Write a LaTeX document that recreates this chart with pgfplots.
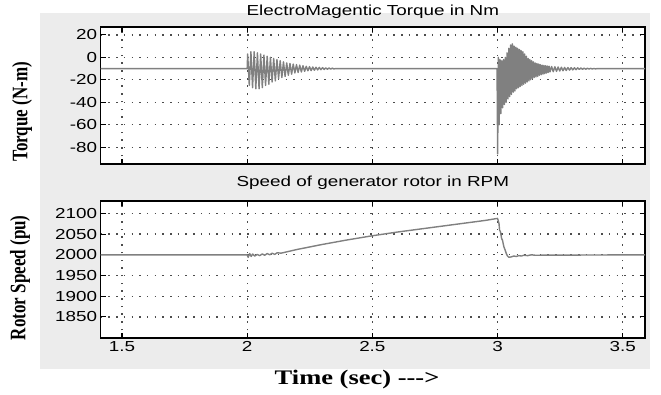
\documentclass[border=0pt]{standalone}
\usepackage{fontspec}
\usepackage{graphicx}
\usepackage{pgfplots}
\pgfplotsset{compat=1.18}
\setmainfont{Liberation Sans}
\newfontfamily\sfwide[FakeStretch=1.3]{Liberation Sans}
\newfontfamily\serifwide[FakeStretch=1.28]{Liberation Serif}
\newfontfamily\tnr{Liberation Serif}
\newcommand\tickfont{\fontsize{14.5}{16}\sfwide}
\definecolor{figbg}{RGB}{236,236,236}
\definecolor{trace}{RGB}{128,128,128}

\pgfplotsset{myax/.style={
  scale only axis, width=544.3pt, height=137pt,
  xmin=1.415, xmax=3.589,
  axis background/.style={fill=white},
  grid=major,
  major grid style={dash pattern=on 1.5pt off 6.2pt, line width=1.3pt, black!70},
  tick align=inside, major tick length=5pt,
  tick style={black, line width=1.2pt},
  axis line style={black, line width=1.3pt},
  xtick={1.5,2,2.5,3,3.5},
  ticklabel style={font=\tickfont},
  /pgf/number format/assume math mode=true,
  /pgf/number format/1000 sep={},
  title style={font=\tickfont, anchor=base, at={(axis description cs:0.5,1)}},
}}

\begin{document}
\begin{tikzpicture}[x=1pt,y=1pt]
\path (0,0) rectangle (661,394);
\fill[figbg] (40,25) rectangle (650,381);

% Top axis: electromagnetic torque
\begin{axis}[myax, at={(100.7pt,230pt)}, anchor=south west,
  ymin=-95, ymax=27, ytick={-80,-60,-40,-20,0,20},
  xticklabels={},
  title={ElectroMagentic Torque in Nm}, title style={yshift=6pt},
  ylabel={\scalebox{1}[1.3]{\fontsize{17}{20}\tnr\bfseries Torque (N-m)}},
  ylabel style={at={(axis description cs:-0.1446,0.38)}, anchor=center},
]
\addplot[trace, no markers, line width=1.4pt, line join=round] coordinates {
(1.415,-10) (2.000,-10) (2.0020,3) (2.0085,-25) (2.0150,5) (2.0215,-27) (2.0280,5)
(2.0345,-28) (2.0410,4) (2.0475,-28) (2.0540,3) (2.0605,-27) (2.0670,2) (2.0735,-25)
(2.0800,1) (2.0865,-24) (2.0930,0) (2.0995,-22) (2.1060,-1) (2.1125,-21) (2.1190,-2)
(2.1255,-19) (2.1320,-3) (2.1385,-18) (2.1450,-4) (2.1515,-17) (2.1580,-5) (2.1645,-16)
(2.1710,-5.5) (2.1775,-15) (2.1840,-6) (2.1905,-14) (2.1970,-6.5) (2.2035,-13.5)
(2.2100,-7) (2.2165,-13) (2.2230,-7.5) (2.2295,-12.5) (2.2360,-8) (2.2425,-12)
(2.2490,-8.3) (2.2555,-11.8) (2.2620,-8.6) (2.2685,-11.5) (2.2750,-8.8) (2.2815,-11.2)
(2.2880,-9) (2.2945,-11) (2.3010,-9.2) (2.3075,-10.8) (2.3140,-9.4) (2.3205,-10.6)
(2.3270,-9.5) (2.3335,-10.5) (2.3400,-9.6) (2.3465,-10.4) (2.3530,-10)
(2.998,-10) (3.0005,-86) (3.003,0) (3.0065,-60) (3.010,-2) (3.0135,-50) (3.017,-3)
(3.0205,-45) (3.024,-2) (3.0275,-42) (3.031,0) (3.0345,-40) (3.038,4) (3.0415,-37)
(3.045,8) (3.0485,-35) (3.052,11) (3.0555,-33) (3.059,12) (3.0625,-31) (3.066,10)
(3.0695,-30) (3.073,9) (3.0765,-28) (3.080,8) (3.0835,-27) (3.087,7) (3.0905,-26)
(3.094,6) (3.0975,-25) (3.101,5) (3.1045,-24) (3.108,3) (3.1115,-23) (3.115,1)
(3.1185,-22) (3.122,-1) (3.1255,-21) (3.129,-2) (3.1325,-20) (3.136,-3) (3.1395,-19)
(3.143,-4) (3.1465,-18) (3.150,-5) (3.1535,-17.5) (3.157,-5.5) (3.1605,-17) (3.164,-6)
(3.1675,-16) (3.171,-6.5) (3.1745,-15.5) (3.178,-7) (3.1815,-15) (3.185,-7.2)
(3.1885,-14.5) (3.192,-7.5) (3.1955,-14) (3.199,-7.8) (3.2025,-13.5) (3.206,-8)
(3.2095,-13) (3.216,-8.2) (3.2225,-12.8) (3.229,-8.4) (3.2355,-12.5) (3.242,-8.6)
(3.2485,-12.2) (3.255,-8.8) (3.2615,-12) (3.268,-9) (3.2745,-11.7) (3.281,-9.1)
(3.2875,-11.4) (3.294,-9.2) (3.3005,-11.2) (3.307,-9.3) (3.3135,-11) (3.320,-9.4)
(3.3265,-10.8) (3.333,-9.5) (3.3395,-10.7) (3.346,-9.6) (3.3525,-10.6) (3.359,-9.7)
(3.3655,-10.5) (3.372,-9.8) (3.3785,-10.4) (3.385,-9.9) (3.3915,-10.3) (3.398,-10)
(3.589,-10)
};
\end{axis}

% Bottom axis: rotor speed
\begin{axis}[myax, at={(100.7pt,56pt)}, anchor=south west,
  ymin=1799, ymax=2130, ytick={1850,1900,1950,2000,2050,2100},
  xticklabels={1.5,2,2.5,3,3.5},
  title={Speed of generator rotor in RPM}, title style={yshift=9pt},
  ylabel={\scalebox{1}[1.3]{\fontsize{17}{20}\tnr\bfseries Rotor Speed (pu)}},
  ylabel style={at={(axis description cs:-0.1483,0.44)}, anchor=center},
  xlabel={\fontsize{20.7}{24}\serifwide\bfseries Time (sec) {-}{-}{-}>},
  xlabel style={at={(axis description cs:0.471,0)}, yshift=-42pt, anchor=center},
]
\addplot[trace, no markers, line width=1.4pt, line join=round] coordinates {
(1.415,2000) (2.000,2000) (2.004,1994) (2.010,2003) (2.016,1996) (2.022,2002)
(2.030,1997) (2.040,2001) (2.050,1998) (2.060,2002) (2.070,1999) (2.080,2003)
(2.090,2000) (2.100,2004) (2.110,2001) (2.120,2005) (2.135,2004) (2.15,2006)
(2.2,2013) (2.3,2025) (2.4,2036) (2.5,2046) (2.6,2055) (2.7,2063) (2.8,2071)
(2.9,2079) (2.95,2083) (2.99,2087) (3.0,2088) (3.003,2082) (3.006,2075) (3.008,2060)
(3.012,2055) (3.016,2040) (3.02,2035) (3.025,2020) (3.03,2012) (3.035,2003)
(3.04,1997) (3.045,1994) (3.055,1995) (3.065,1997) (3.075,1996) (3.085,1998)
(3.095,1997) (3.105,1999) (3.12,1998) (3.135,2000) (3.15,1999) (3.589,2000)
};
\end{axis}
\end{tikzpicture}
\end{document}
